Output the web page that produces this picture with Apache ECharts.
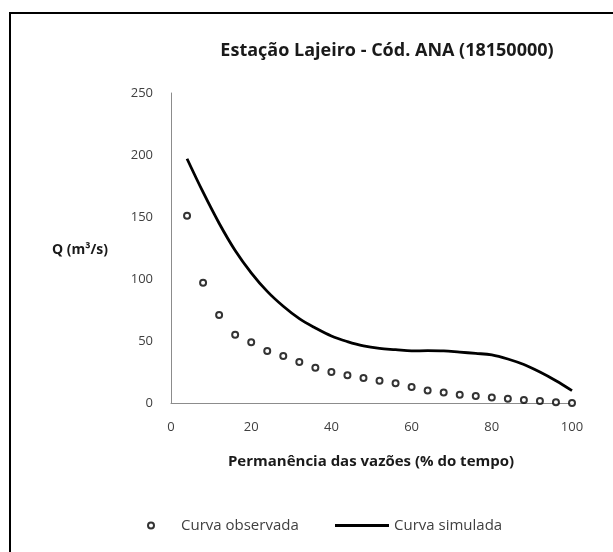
<!DOCTYPE html>
<html>
<head>
<meta charset="utf-8">
<script src="https://cdn.jsdelivr.net/npm/echarts@6/dist/echarts.min.js"></script>
<style>
html,body{margin:0;padding:0;background:#fff;}
#chart{width:613px;height:552px;}
</style>
</head>
<body>
<div id="chart"></div>
<script>
var permanence = [4, 8, 12, 16, 20, 24, 28, 32, 36, 40, 44, 48, 52, 56, 60, 64, 68, 72, 76, 80, 84, 88, 92, 96, 100];
var observed = [151, 97, 71, 55, 49, 42, 38, 33, 28.5, 25, 22.3, 20.2, 18, 16, 13, 10, 8.5, 6.7, 5.6, 4.5, 3.5, 2.4, 1.6, 0.6, 0];
var simulated = [197, 170, 145, 123, 105, 90, 78, 68, 60.5, 54, 49.5, 46, 44, 43, 42, 42.2, 42, 41, 40, 38.8, 35.5, 31, 25, 18, 10];
var xTicks = [0, 20, 40, 60, 80, 100];
var yTicks = [0, 50, 100, 150, 200, 250];

var titleText = 'Estação Lajeiro - Cód. ANA (18150000)';
var xName = 'Permanência das vazões (% do tempo)';
var yName = 'Q (m³/s)';
var seriesNames = ['Curva observada', 'Curva simulada'];

function pairs(xs, ys) { return xs.map(function (x, i) { return [x, ys[i]]; }); }

var chart = echarts.init(document.getElementById('chart'), null, { renderer: 'canvas' });
var font = 'Open Sans, Liberation Sans, sans-serif';
chart.setOption({
  animation: false,
  backgroundColor: '#ffffff',
  title: {
    text: titleText,
    left: 382, top: 37, textAlign: 'center',
    textStyle: { fontFamily: font, fontSize: 18, fontWeight: 'bold', color: '#1a1a1a' }
  },
  graphic: [
    { type: 'rect', shape: { x: 10, y: 13, width: 620, height: 560 }, style: { fill: 'none', stroke: '#000', lineWidth: 2 }, silent: true },
    { type: 'text', x: 80, y: 250, style: { text: yName, fontFamily: font, fontSize: 14, fontWeight: 'bold', fill: '#1a1a1a', align: 'center', verticalAlign: 'middle' } },
    { type: 'text', x: 371, y: 462, style: { text: xName, fontFamily: font, fontSize: 15, fontWeight: 'bold', fill: '#1a1a1a', align: 'center', verticalAlign: 'middle' } }
  ],
  grid: { left: 171, right: 41, top: 93, bottom: 149, containLabel: false },
  xAxis: {
    type: 'value', min: xTicks[0], max: xTicks[xTicks.length - 1], interval: 20,
    axisLine: { show: true, lineStyle: { color: '#8c8c8c', width: 1 } },
    axisTick: { show: false },
    splitLine: { show: false },
    axisLabel: { margin: 18, fontFamily: font, fontSize: 13, color: '#404040' }
  },
  yAxis: {
    type: 'value', min: yTicks[0], max: yTicks[yTicks.length - 1], interval: 50,
    axisLine: { show: true, lineStyle: { color: '#8c8c8c', width: 1 } },
    axisTick: { show: false },
    splitLine: { show: false },
    axisLabel: { margin: 18, fontFamily: font, fontSize: 13, color: '#404040' }
  },
  legend: [
    {
      data: [seriesNames[0]], left: 142, top: 513, itemWidth: 50, itemHeight: 6, itemGap: 0,
      textStyle: { fontFamily: font, fontSize: 15, color: '#404040' }
    },
    {
      data: [{ name: seriesNames[1], icon: 'rect' }], left: 330, top: 513, itemWidth: 54, itemHeight: 3, itemGap: 0,
      textStyle: { fontFamily: font, fontSize: 15, color: '#404040' }
    }
  ],
  series: [
    {
      name: seriesNames[0], type: 'scatter', data: pairs(permanence, observed),
      symbol: 'emptyCircle', symbolSize: 6,
      itemStyle: { color: '#000000', borderColor: '#000000', borderWidth: 2 }
    },
    {
      name: seriesNames[1], type: 'line', data: pairs(permanence, simulated),
      smooth: 0.35, showSymbol: false, symbol: 'none',
      lineStyle: { color: '#000000', width: 2.8 },
      itemStyle: { color: '#000000' }
    }
  ]
});
</script>
</body>
</html>
